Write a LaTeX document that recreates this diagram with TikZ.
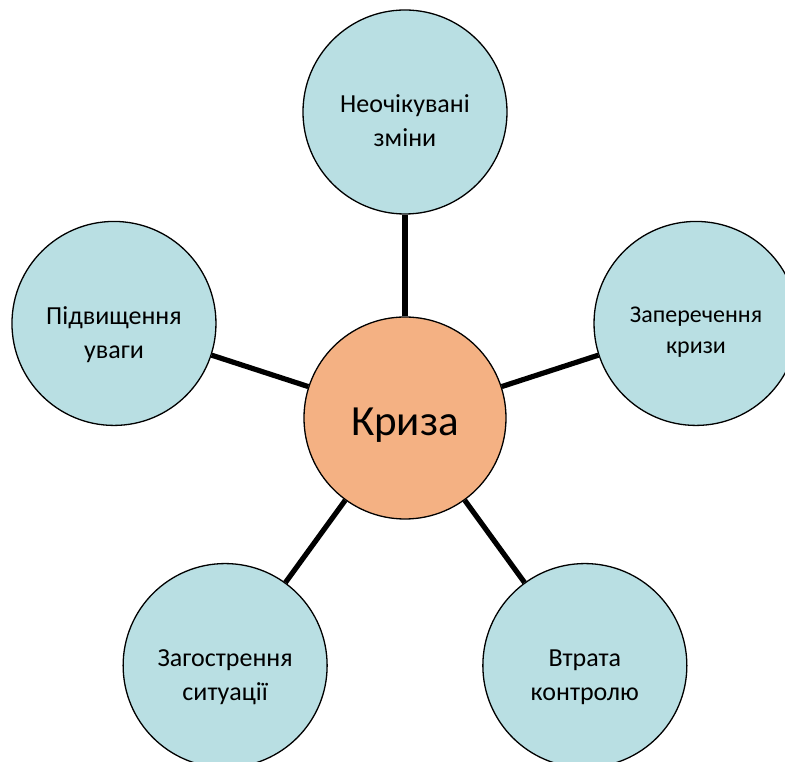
\documentclass[tikz,border=0pt]{standalone}
\usepackage{fontspec}
\setmainfont{Carlito}
\usetikzlibrary{positioning,calc,backgrounds}
\definecolor{crisisorange}{HTML}{F4B183}
\definecolor{petalblue}{HTML}{B9DFE3}
\definecolor{crisisink}{HTML}{000000}
\tikzset{
  core/.style  ={circle,draw=crisisink,fill=crisisorange,line width=1.3pt,minimum size=202pt,inner sep=0pt,text height=45pt,text depth=9pt,font=\fontsize{43}{50}\selectfont},
  petal/.style ={circle,draw=crisisink,fill=petalblue,line width=1.3pt,minimum size=204pt,inner sep=0pt,align=center,text height=70pt,text depth=0pt,font=\fontsize{26}{34}\selectfont},
  spoke/.style ={line width=5.2pt,draw=crisisink},
}

\begin{document}
\begin{tikzpicture}
  \useasboundingbox (-405pt,-344pt) rectangle (380pt,418pt);
  \node[core] (crisis) at (0,0) {Криза};
  \node[petal] (changes) at (90:306pt) {Неочікувані\\зміни};
  \node[petal, text height=61pt, font=\fontsize{24}{31}\selectfont] (denial) at (18:306pt) {Заперечення\\кризи};
  \node[petal] (control) at (-54:306pt) {Втрата\\контролю};
  \node[petal] (worsening) at (-126:306pt) {Загострення\\ситуації};
  \node[petal] (attention) at (162:306pt) {Підвищення\\уваги};

  \begin{scope}[on background layer]
    \draw[spoke] (crisis) -- (changes);
    \draw[spoke] (crisis) -- (denial);
    \draw[spoke] (crisis) -- (control);
    \draw[spoke] (crisis) -- (worsening);
    \draw[spoke] (crisis) -- (attention);
  \end{scope}
\end{tikzpicture}
\end{document}
